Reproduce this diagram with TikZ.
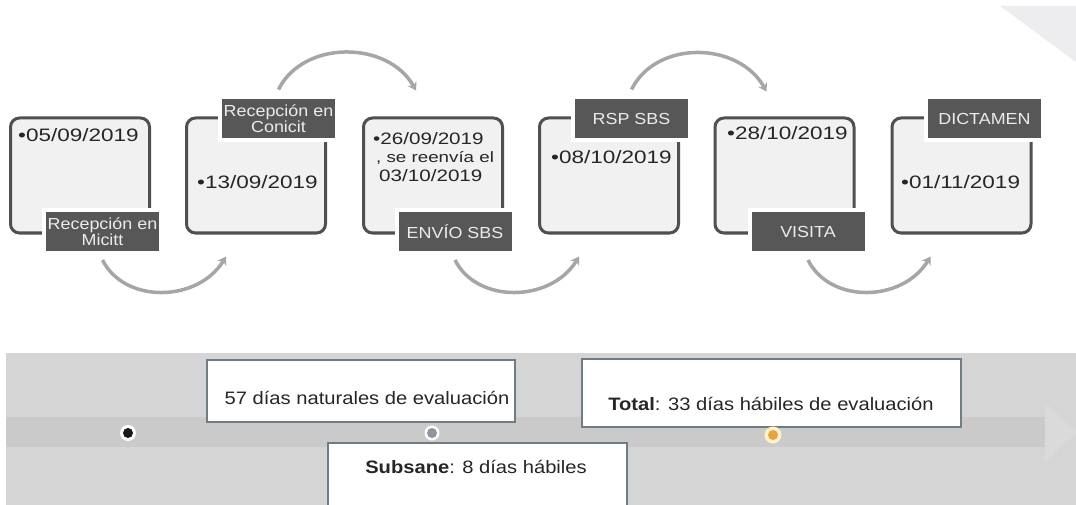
\documentclass[tikz,border=0pt]{standalone}
\usepackage{fontspec}
\setmainfont{Liberation Sans}
\newfontfamily\datefont[FakeStretch=1.25]{Liberation Sans}
\newfontfamily\labfont[FakeStretch=1.12]{Liberation Sans}
\newfontfamily\botfont[FakeStretch=1.12]{Liberation Sans}
\usetikzlibrary{arrows.meta,calc}
\definecolor{boxfill}{HTML}{F1F1F1}
\definecolor{boxline}{HTML}{505050}
\definecolor{labfill}{HTML}{575757}
\definecolor{arcgray}{HTML}{A6A6A6}
\definecolor{band}{HTML}{D5D5D5}
\definecolor{bandmid}{HTML}{CACACA}
\definecolor{headgray}{HTML}{DADADA}
\definecolor{noteline}{HTML}{6E7C86}
\definecolor{dotgray}{HTML}{8C96A0}
\definecolor{dotorange}{HTML}{E6A73A}
\definecolor{ringyellow}{HTML}{FFF1C9}
\definecolor{cornergray}{HTML}{EDEDF0}
\begin{document}
\begin{tikzpicture}[x=1pt,y=-1pt,
 stepbox/.style={draw=boxline, line width=3pt, fill=boxfill, rounded corners=9pt, minimum width=139pt, minimum height=115pt, inner sep=0pt},
 labbox/.style={draw=white, line width=4pt, fill=labfill, text=white!92!black, minimum width=117pt, minimum height=43pt, inner sep=1pt, align=center, font=\labfont\fontsize{16}{16}\selectfont},
 datetext/.style={anchor=west, inner sep=0pt, align=left, text=black!85, font=\datefont\fontsize{18}{19}\selectfont},
 arc/.style={draw=arcgray, line width=3.5pt, -{Stealth[length=8pt,width=10pt]}},
 note/.style={draw=noteline, line width=2.5pt, fill=white, inner sep=0pt},
 notetext/.style={inner sep=0pt, text=black!85, font=\botfont\fontsize{18}{20}\selectfont},
]
\useasboundingbox (0,0) rectangle (1076,505);
\fill[white] (0,0) rectangle (1076,505);
% corner decoration
\fill[cornergray] (1000,6) -- (1076,6) -- (1076,62) -- cycle;

% step boxes
\node[stepbox] (b1) at (80,175.5) {};
\node[stepbox] (b2) at (256,175.5) {};
\node[stepbox] (b3) at (433,175.5) {};
\node[stepbox] (b4) at (609,175.5) {};
\node[stepbox] (b5) at (784.5,175.5) {};
\node[stepbox] (b6) at (961.5,175.5) {};

% dates
\node[datetext] (t1) at (18,135) {•05/09/2019};
\node[datetext] (t2) at (197,182) {•13/09/2019};
\node[datetext, font=\datefont\fontsize{16.5}{18.5}\selectfont] (t3) at (373,157) {•26/09/2019\\{\fontsize{15}{18.5}\selectfont\hspace*{3pt}, se reenvía el}\\\hspace*{6pt}03/10/2019};
\node[datetext] (t4) at (551,157) {•08/10/2019};
\node[datetext] (t5) at (727,133) {•28/10/2019};
\node[datetext] (t6) at (901,182) {•01/11/2019};

% labels
\node[labbox] (l1) at (102.5,231.5) {Recepción en\\Micitt};
\node[labbox] (l2) at (278.5,119) {Recepción en\\Conicit};
\node[labbox] (l3) at (455,231.5) {ENVÍO SBS};
\node[labbox] (l4) at (631.5,119) {RSP SBS};
\node[labbox] (l5) at (808,231.5) {VISITA};
\node[labbox] (l6) at (984.5,119) {DICTAMEN};

% arcs
\draw[arc] ([yshift=-5pt]l1.south) .. controls +(22,44) and +(-28,46) .. ($(b2.south west)+(41,22)$);
\draw[arc] ([yshift=6pt]l2.north) .. controls +(25,-50) and +(-28,-50) .. ($(b3.north west)+(54,-26)$);
\draw[arc] ([yshift=-5pt]l3.south) .. controls +(22,44) and +(-28,46) .. ($(b4.south west)+(41,22)$);
\draw[arc] ([yshift=6pt]l4.north) .. controls +(25,-50) and +(-28,-50) .. ($(b5.north west)+(53,-25)$);
\draw[arc] ([yshift=-5pt]l5.south) .. controls +(22,44) and +(-28,46) .. ($(b6.south west)+(40,22)$);

% timeline band
\fill[band] (6,353) rectangle (1076,505);
\fill[bandmid] (6,417) rectangle (1047,447);
\fill[headgray] (1045,403) -- (1078,432) -- (1045,462) -- cycle;

% notes
\node[note, minimum width=308pt, minimum height=62pt] (n1) at (361,391) {};
\node[notetext] (n1t) at (367,398) {57 días naturales de evaluación};
\node[note, minimum width=299pt, minimum height=77pt] (n2) at (477.5,481.5) {};
\node[notetext] (n2t) at (476,467) {\textbf{Subsane}: 8 días hábiles};
\node[note, minimum width=379pt, minimum height=68pt] (n3) at (771.5,393) {};
\node[notetext] (n3t) at (771,404) {\textbf{Total}: 33 días hábiles de evaluación};

% dots
\node[circle, fill=white, minimum size=16pt, inner sep=0pt] (d1r) at (128,433) {};
\node[circle, fill=black!90, minimum size=10pt, inner sep=0pt] (d1) at (d1r) {};
\node[circle, fill=white, minimum size=15pt, inner sep=0pt] (d2r) at (432,433) {};
\node[circle, fill=dotgray, minimum size=10pt, inner sep=0pt] (d2) at (d2r) {};
\node[circle, fill=ringyellow, minimum size=17pt, inner sep=0pt] (d3r) at (773,435) {};
\node[circle, fill=dotorange, minimum size=10pt, inner sep=0pt] (d3) at (d3r) {};
\end{tikzpicture}
\end{document}
